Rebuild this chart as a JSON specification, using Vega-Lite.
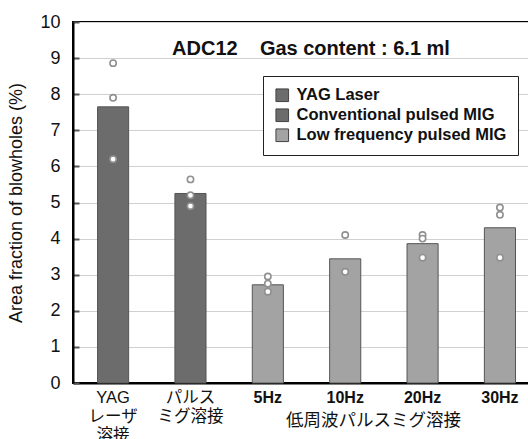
{
  "$schema": "https://vega.github.io/schema/vega-lite/v6.json",
  "width": 456,
  "height": 361,
  "autosize": {"type": "none"},
  "padding": {"left": 73, "top": 22, "right": 0, "bottom": 56},
  "background": "white",
  "config": {
    "view": {"stroke": "#000000", "strokeWidth": 2},
    "font": "Liberation Sans"
  },
  "title": {
    "text": "ADC12\u00a0\u00a0\u00a0\u00a0Gas content : 6.1 ml",
    "font": "Liberation Sans",
    "fontSize": 20,
    "fontWeight": "bold",
    "color": "#111111",
    "anchor": "middle",
    "baseline": "middle",
    "offset": -23,
    "dx": 10,
    "dy": 33
  },
  "datasets": {
    "bars": [
      {"cat": "YAG|レーザ|溶接", "group": "YAG Laser", "value": 7.65},
      {"cat": "パルス|ミグ溶接", "group": "Conventional pulsed MIG", "value": 5.25},
      {"cat": "5Hz", "group": "Low frequency pulsed MIG", "value": 2.72},
      {"cat": "10Hz", "group": "Low frequency pulsed MIG", "value": 3.44},
      {"cat": "20Hz", "group": "Low frequency pulsed MIG", "value": 3.86},
      {"cat": "30Hz", "group": "Low frequency pulsed MIG", "value": 4.3}
    ],
    "points": [
      {"cat": "YAG|レーザ|溶接", "value": 8.86},
      {"cat": "YAG|レーザ|溶接", "value": 7.9},
      {"cat": "YAG|レーザ|溶接", "value": 6.2},
      {"cat": "パルス|ミグ溶接", "value": 5.64},
      {"cat": "パルス|ミグ溶接", "value": 5.2},
      {"cat": "パルス|ミグ溶接", "value": 4.9},
      {"cat": "5Hz", "value": 2.95},
      {"cat": "5Hz", "value": 2.75},
      {"cat": "5Hz", "value": 2.53},
      {"cat": "10Hz", "value": 4.1},
      {"cat": "10Hz", "value": 3.08},
      {"cat": "20Hz", "value": 4.1},
      {"cat": "20Hz", "value": 4.0},
      {"cat": "20Hz", "value": 3.47},
      {"cat": "30Hz", "value": 4.86},
      {"cat": "30Hz", "value": 4.66},
      {"cat": "30Hz", "value": 3.47}
    ]
  },
  "encoding": {
    "x": {
      "field": "cat",
      "type": "nominal",
      "sort": null,
      "scale": {"paddingInner": 0.598, "paddingOuter": 0.246, "align": 0.645},
      "axis": {
        "title": "低周波パルスミグ溶接",
        "titleFont": "Noto Sans CJK JP",
        "titleFontSize": 17.5,
        "titleFontWeight": "normal",
        "titleColor": "#111111",
        "titleX": 300,
        "titleY": 37,
        "titleBaseline": "middle",
        "titleAnchor": "middle",
        "labelExpr": "split(datum.label, '|')",
        "labelAngle": 0,
        "labelFont": "Liberation Sans, Noto Sans CJK JP",
        "labelFontSize": {"condition": {"test": "indexof(datum.label, 'Hz') >= 0", "value": 16}, "value": 16.5},
        "labelFontWeight": {"condition": {"test": "indexof(datum.label, 'Hz') >= 0", "value": "bold"}, "value": "normal"},
        "labelColor": "#111111",
        "labelLineHeight": 19,
        "labelPadding": 6,
        "ticks": false,
        "domainColor": "#000000",
        "domainWidth": 2,
        "grid": false
      }
    },
    "y": {
      "field": "value",
      "type": "quantitative",
      "scale": {"domain": [0, 10], "nice": false},
      "axis": {
        "title": "Area fraction of blowholes (%)",
        "titleFont": "Liberation Sans",
        "titleFontSize": 18,
        "titleFontWeight": "normal",
        "titleColor": "#111111",
        "titlePadding": 14,
        "values": [0, 1, 2, 3, 4, 5, 6, 7, 8, 9, 10],
        "labelOverlap": false,
        "labelFont": "Liberation Sans",
        "labelFontSize": 18,
        "labelColor": "#111111",
        "labelPadding": 19,
        "tickSize": -6,
        "tickColor": "#555555",
        "tickWidth": 2,
        "domainColor": "#000000",
        "domainWidth": 2,
        "grid": true,
        "gridColor": "#d0d0d0",
        "gridWidth": 1
      }
    }
  },
  "layer": [
    {
      "data": {"name": "bars"},
      "mark": {"type": "bar", "stroke": "#555555", "strokeWidth": 1},
      "encoding": {
        "color": {
          "field": "group",
          "type": "nominal",
          "scale": {
            "domain": ["YAG Laser", "Conventional pulsed MIG", "Low frequency pulsed MIG"],
            "range": ["#6c6c6c", "#6c6c6c", "#a3a3a3"]
          },
          "legend": {
            "orient": "none",
            "legendX": 190,
            "legendY": 54,
            "title": null,
            "symbolType": "square",
            "symbolSize": 160,
            "symbolStrokeColor": "#444444",
            "symbolStrokeWidth": 1,
            "symbolOpacity": 1,
            "labelFont": "Liberation Sans",
            "labelFontSize": 16.5,
            "labelFontWeight": "bold",
            "labelColor": "#111111",
            "labelLimit": 400,
            "labelOffset": 6,
            "rowPadding": 2,
            "padding": 11,
            "strokeColor": "#222222",
            "fillColor": "white"
          }
        }
      }
    },
    {
      "data": {"name": "points"},
      "mark": {"type": "point", "filled": true, "fill": "white", "stroke": "#909090", "strokeWidth": 1.6, "size": 40, "opacity": 1}
    }
  ]
}
